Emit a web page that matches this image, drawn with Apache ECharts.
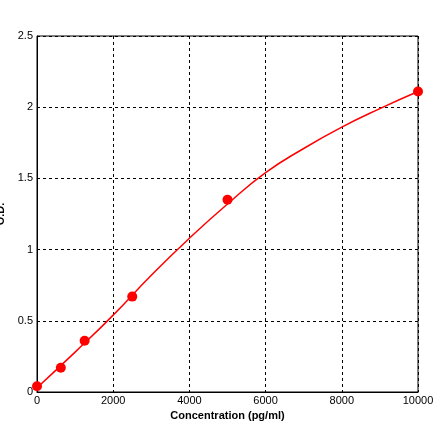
<!DOCTYPE html>
<html>
<head>
<meta charset="utf-8">
<script src="https://cdn.jsdelivr.net/npm/echarts@6/dist/echarts.min.js"></script>
<style>html,body{margin:0;padding:0;background:#fff}#c{width:440px;height:441px}</style>
</head>
<body>
<div id="c"></div>
<script>
// standards measured
var stdConc = [0, 625, 1250, 2500, 5000, 10000];
var stdOD = [0.04, 0.17, 0.36, 0.67, 1.35, 2.11];
// fitted curve
var fitConc = [0, 1000, 2000, 3000, 4000, 5000, 6000, 7000, 8000, 9000, 10000];
var fitOD = [0.03, 0.28, 0.54, 0.82, 1.08, 1.32, 1.54, 1.71, 1.86, 1.99, 2.11];

function pairs(xs, ys) {
    return xs.map(function (x, i) { return [x, ys[i]]; });
}

var chart = echarts.init(document.getElementById('c'));
var dash = { show: true, lineStyle: { color: '#000', type: [3, 3], width: 1 } };
chart.setOption({
    animation: false,
    grid: { left: 37, right: 22, top: 36, bottom: 49, containLabel: false, outerBoundsMode: 'none',
        show: true, borderColor: '#000', borderWidth: 1 },
    xAxis: {
        type: 'value', min: 0, max: 10000, interval: 2000,
        name: 'Concentration (pg/ml)', nameLocation: 'middle', nameGap: 18,
        nameTextStyle: { fontWeight: 'bold', fontSize: 11, color: '#000', fontFamily: 'Liberation Sans' },
        axisLine: { lineStyle: { color: '#000' } },
        axisTick: { show: false },
        axisLabel: { color: '#000', fontSize: 11, margin: 3, fontFamily: 'Liberation Sans',
            formatter: function (v) { return String(v); } },
        splitLine: dash
    },
    yAxis: {
        type: 'value', min: 0, max: 2.5, interval: 0.5,
        name: 'O.D.', nameLocation: 'middle', nameGap: 24,
        nameTextStyle: { fontWeight: 'bold', fontSize: 11, color: '#000', fontFamily: 'Liberation Sans' },
        axisLine: { lineStyle: { color: '#000' } },
        axisTick: { show: false },
        axisLabel: { color: '#000', fontSize: 11, margin: 4, fontFamily: 'Liberation Sans' },
        splitLine: dash
    },
    series: [
        {
            type: 'line', data: pairs(fitConc, fitOD), smooth: 0.5, showSymbol: false,
            lineStyle: { color: '#ff0000', width: 1.5 }, z: 2
        },
        {
            type: 'scatter', data: pairs(stdConc, stdOD), symbol: 'circle', symbolSize: 10,
            itemStyle: { color: '#ff0000', opacity: 1 }, z: 3
        }
    ]
});
</script>
</body>
</html>
